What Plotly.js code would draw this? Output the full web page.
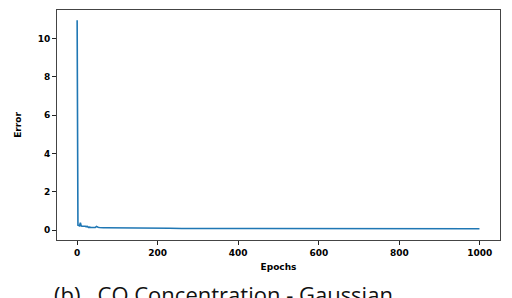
<!DOCTYPE html>
<html>
<head>
<meta charset="utf-8">
<script src="https://cdn.plot.ly/plotly-3.0.1.min.js"></script>
<style>html,body{margin:0;padding:0;background:#fff;}#chart{width:512px;height:298px;}</style>
</head>
<body>
<div id="chart"></div>
<script>
const epochs = [0, 1, 2, 4, 6, 8, 9, 10, 12, 15, 18, 20, 22, 25, 28, 30, 35, 40, 45, 48, 50, 52, 55, 60, 65, 70, 80, 90, 100, 120, 140, 160, 180, 200, 230, 260, 300, 350, 400, 450, 500, 550, 600, 650, 700, 750, 800, 850, 900, 950, 999];
const errors = [10.95, 0.3, 0.25, 0.24, 0.22, 0.38, 0.28, 0.22, 0.2, 0.21, 0.19, 0.2, 0.18, 0.19, 0.14, 0.15, 0.13, 0.14, 0.13, 0.19, 0.14, 0.15, 0.13, 0.14, 0.12, 0.12, 0.12, 0.11, 0.11, 0.1, 0.1, 0.1, 0.09, 0.09, 0.09, 0.08, 0.08, 0.08, 0.07, 0.07, 0.07, 0.07, 0.07, 0.07, 0.07, 0.07, 0.07, 0.07, 0.07, 0.07, 0.07];
const xTicks = [0, 200, 400, 600, 800, 1000];
const yTicks = [0, 2, 4, 6, 8, 10];
const xLabel = "Epochs";
const yLabel = "Error";
const caption = "(b)\u00a0\u00a0\u00a0CO Concentration - Gaussian";

const tickFont = {family: "DejaVu Sans", size: 9, color: "#000", weight: "bold"};
const axisCommon = {
  showgrid: false, zeroline: false, showline: true, linecolor: "#444", linewidth: 1,
  mirror: true, ticks: "outside", ticklen: 4, tickcolor: "#222", tickfont: tickFont
};
Plotly.newPlot("chart", [{
  x: epochs, y: errors, type: "scatter", mode: "lines",
  line: {color: "#1f77b4", width: 1.6}
}], {
  width: 512, height: 298,
  margin: {l: 57, r: 12, t: 10, b: 58},
  paper_bgcolor: "#fff", plot_bgcolor: "#fff",
  showlegend: false,
  xaxis: Object.assign({}, axisCommon, {range: [-50, 1050], tickvals: xTicks,
    title: {text: xLabel, font: {family: "DejaVu Sans", size: 9, color: "#000", weight: "bold"}, standoff: 6}}),
  yaxis: Object.assign({}, axisCommon, {range: [-0.52, 11.48], tickvals: yTicks,
    title: {text: yLabel, font: {family: "DejaVu Sans", size: 9, color: "#000", weight: "bold"}, standoff: 14}}),
  annotations: [{
    text: caption, xref: "paper", yref: "paper", x: -0.012, y: -0.163,
    xanchor: "left", yanchor: "top", showarrow: false,
    font: {family: "Open Sans", size: 22, color: "#111"}
  }]
}, {staticPlot: true, displayModeBar: false});
</script>
</body>
</html>
